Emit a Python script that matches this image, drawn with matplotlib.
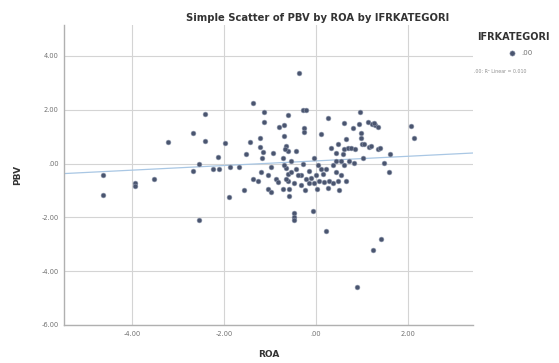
import numpy as np
import matplotlib
matplotlib.use("Agg")
import matplotlib.pyplot as plt
from matplotlib.ticker import FuncFormatter

# ROA / PBV values (IFRKATEGORI = .00)
roa = [-4.63, -4.63, -3.93, -3.93, -3.52, -3.22, -2.67, -2.41, -2.41, -2.67,
       -2.54, -2.54, -2.24, -2.13, -2.11, -1.98, -1.87, -1.89, -1.67, -1.57,
       -1.52, -1.43, -1.37, -1.37, -1.22, -1.22, -1.15, -1.17, -1.13, -1.13,
       -1.20, -1.04, -1.04, -0.98, -0.98, -0.93, -0.87, -0.83, -0.80, -0.72,
       -0.72, -0.65, -0.65, -0.61, -0.61, -0.61, -0.61, -0.70, -0.70, -0.67,
       -0.65, -0.59, -0.48, -0.48, -0.48, -0.48, -0.37, -0.28, -0.22, -0.26,
       -0.26, -0.33, -0.28, -0.22, -0.15, -0.07, -0.04, -0.04, 0.04, 0.07,
       0.11, 0.11, 0.17, 0.22, 0.28, 0.26, 0.33, 0.37, 0.37, 0.43,
       0.43, 0.48, 0.48, 0.54, 0.59, 0.61, 0.61, 0.61, 0.65, 0.65,
       0.70, 0.76, 0.80, 0.85, 0.89, 0.93, 0.96, 0.98, 0.98, 1.00,
       1.04, 1.13, 1.15, 1.22, 1.24, 1.28, 1.35, 1.35, 1.39, 1.41,
       1.48, 1.59, 1.61, 2.07, 2.13, -1.26, -0.54, -0.43, -0.39, -0.15,
       -0.11, 0.00, 0.15, 0.22, 0.26, 0.43, -0.54, -0.33, -0.24, 0.02,
       0.50, -0.43, -0.70, -0.59, 0.54, 0.72, 0.83, 1.02, 1.20, 1.26]
pbv = [-0.41, -1.15, -0.74, -0.85, -0.56, 0.81, 1.15, 1.85, 0.85, -0.26,
       0.00, -2.11, -0.19, 0.26, -0.19, 0.78, -0.11, -1.26, -0.11, -1.00,
       0.37, 0.81, 2.26, -0.56, 0.96, 0.63, 0.44, 0.19, 1.93, 1.56,
       -0.33, -0.44, -0.96, -0.11, -1.04, 0.41, -0.59, -0.70, 1.37, 0.22,
       -0.93, 0.67, -0.15, 1.81, 0.48, -0.37, -0.63, 1.44, 1.04, 0.56,
       -0.56, -0.96, -0.74, -1.85, -2.00, -2.11, 3.37, 2.00, 2.00, 1.33,
       1.19, -0.44, 0.00, -0.56, -0.74, -1.78, 0.22, -0.74, -0.07, -0.63,
       1.11, -0.19, -0.70, -2.52, -0.63, 1.70, 0.59, -0.07, -0.74, 0.41,
       0.11, 0.74, -0.63, -0.44, 0.37, 1.52, 0.56, -0.07, 0.93, -0.63,
       0.59, 0.59, 1.33, 0.56, -4.59, 1.48, 1.93, 1.15, 0.96, 0.74,
       0.74, 1.56, 0.63, 1.48, -3.22, 1.44, 1.37, 0.56, 0.59, -2.81,
       0.04, -0.30, 0.37, 1.41, 0.96, -0.63, 0.11, -0.19, -0.44, -0.26,
       -0.52, -0.44, -0.37, -0.19, -0.89, -0.33, -0.33, -0.81, -1.00, -0.93,
       -1.00, 0.48, -0.07, -1.19, 0.11, 0.11, 0.04, 0.19, 0.67, 1.52]

# linear fit line as drawn (R2 Linear = 0.010)
fit_intercept = 0.10
fit_slope = 0.086
x_ticks = [-4, -2, 0, 2]
y_ticks = [-6, -4, -2, 0, 2, 4]


def spss_fmt(v, pos):
    s = f"{v:.2f}"
    return s.replace("0.", ".", 1) if s.startswith("0.") else s


fig = plt.figure(figsize=(5.59, 3.63), dpi=100)
ax = fig.add_axes([0.1145, 0.1047, 0.7315, 0.8263])

grid_c = "#d4d4d4"
ax.set_xlim(-5.48, 3.41)
ax.set_ylim(-6.0, 5.15)
ax.set_xticks(x_ticks)
ax.set_yticks(y_ticks)
ax.xaxis.set_major_formatter(FuncFormatter(spss_fmt))
ax.yaxis.set_major_formatter(FuncFormatter(spss_fmt))
ax.grid(True, color=grid_c, linewidth=0.8)
ax.set_axisbelow(True)
for s in ["top", "right"]:
    ax.spines[s].set_visible(False)
for s in ["left", "bottom"]:
    ax.spines[s].set_color("#b0b0b0")
    ax.spines[s].set_linewidth(1.0)
ax.tick_params(length=0, pad=4, labelsize=4.8, labelcolor="#707070")

xs = np.array(ax.get_xlim())
ax.plot(xs, fit_intercept + fit_slope * xs, color="#a9c7e4", linewidth=0.9, zorder=2)
ax.scatter(roa, pbv, s=12, color="#4a556f", edgecolors="#8f98ad",
           linewidths=0.4, zorder=3)

ax.set_xlabel("ROA", fontsize=6.5, fontweight="bold", color="#333333", labelpad=10)
ax.set_ylabel("PBV", fontsize=6.5, fontweight="bold", color="#333333", labelpad=14)

fig.text(0.569, 0.95, "Simple Scatter of PBV by ROA by IFRKATEGORI",
         ha="center", va="center", fontsize=7.2, fontweight="bold", color="#333333")

# legend block at right
fig.text(0.853, 0.898, "IFRKATEGORI", ha="left", va="center",
         fontsize=7, fontweight="bold", color="#333333")
ax.scatter([0.916], [0.854], s=14, color="#4a556f", edgecolors="#8f98ad",
           linewidths=0.4, transform=fig.transFigure, clip_on=False)
fig.text(0.932, 0.854, ".00", ha="left", va="center", fontsize=5, color="#707070")
fig.text(0.848, 0.804, ".00: R² Linear = 0.010", ha="left", va="center",
         fontsize=3.4, color="#909090")

fig.savefig("out.png", dpi=100)
